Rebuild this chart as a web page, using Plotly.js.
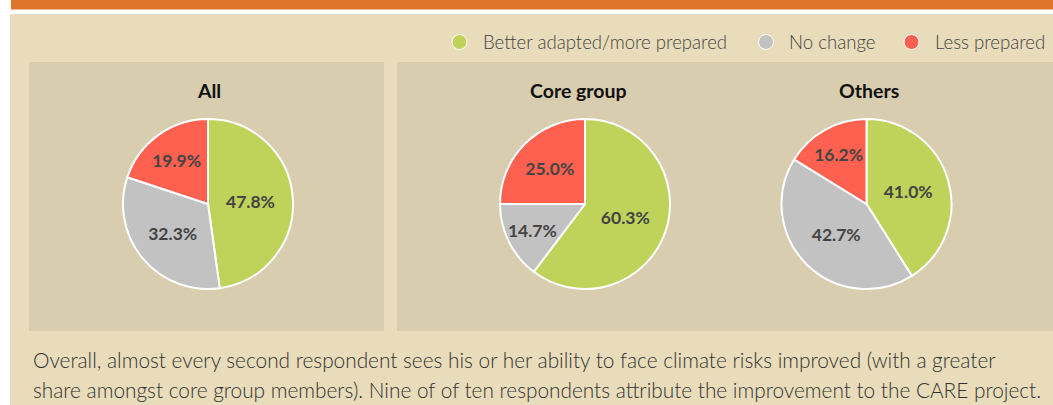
<!DOCTYPE html>
<html>
<head>
<meta charset="utf-8">
<script src="https://cdn.plot.ly/plotly-3.0.1.min.js"></script>
<style>
  html, body { margin: 0; padding: 0; background: #ffffff; }
  #chart { width: 1053px; height: 405px; }
</style>
</head>
<body>
<div id="chart"></div>
<script>
// ---- data ----
const categories = ["Better adapted/more prepared", "No change", "Less prepared"];
const groups = ["All", "Core group", "Others"];
const valuesAll = [47.8, 32.3, 19.9];
const valuesCore = [60.3, 14.7, 25.0];
const valuesOthers = [41.0, 42.7, 16.2];
const captionLines = [
  "Overall, almost every second respondent sees his or her ability to face climate risks improved (with a greater",
  "share amongst core group members). Nine of of ten respondents attribute the improvement to the CARE project."
];

// ---- styling ----
const W = 1053, H = 405;
const colors = ["#bfd35a", "#c2c2c2", "#fe6150"];
const px = x => x / W;
const py = y => 1 - y / H;

const pieCenters = [208, 585, 866.5];
const pieCY = 204, pieR = 85;
const seriesValues = [valuesAll, valuesCore, valuesOthers];

const traces = seriesValues.map((vals, i) => ({
  type: "pie",
  values: vals,
  labels: categories,
  sort: false,
  direction: "clockwise",
  rotation: 0,
  showlegend: false,
  marker: { colors: colors, line: { color: "#ffffff", width: 2 } },
  texttemplate: "%{value:.1f}%",
  textposition: "inside",
  insidetextorientation: "horizontal",
  textfont: { family: "Lato, sans-serif", size: 17.5, color: "#444444", weight: 700 },
  hoverinfo: "label+value",
  domain: {
    x: [px(pieCenters[i] - pieR), px(pieCenters[i] + pieR)],
    y: [py(pieCY + pieR), py(pieCY - pieR)]
  }
}));

const shapes = [
  // orange top bar
  { type: "rect", xref: "paper", yref: "paper", x0: px(11), x1: px(1053), y0: py(9.5), y1: py(0),
    fillcolor: "#df742b", line: { width: 0 }, layer: "below" },
  // beige background
  { type: "rect", xref: "paper", yref: "paper", x0: px(10), x1: px(1053), y0: py(405), y1: py(14),
    fillcolor: "#e8dcba", line: { width: 0 }, layer: "below" },
  // panels
  { type: "rect", xref: "paper", yref: "paper", x0: px(29), x1: px(384), y0: py(331), y1: py(62),
    fillcolor: "#d9cdaf", line: { width: 0 }, layer: "below" },
  { type: "rect", xref: "paper", yref: "paper", x0: px(397), x1: px(1053), y0: py(331), y1: py(62),
    fillcolor: "#d9cdaf", line: { width: 0 }, layer: "below" }
];

const legendX = [459.5, 766, 911.5];
const legendY = 42;
categories.forEach((c, i) => {
  shapes.push({
    type: "circle", xref: "paper", yref: "paper",
    xsizemode: "pixel", ysizemode: "pixel",
    xanchor: px(legendX[i]), yanchor: py(legendY),
    x0: -7.5, x1: 7.5, y0: -7.5, y1: 7.5,
    fillcolor: colors[i], line: { color: "#ffffff", width: 1 }
  });
});

const annotations = [];
categories.forEach((c, i) => {
  annotations.push({
    xref: "paper", yref: "paper", x: px(legendX[i] + 21), y: py(legendY),
    xanchor: "left", yanchor: "middle", showarrow: false, text: c,
    font: { family: "Lato, sans-serif", size: 18.6, color: "#444444", weight: 300 }
  });
});
const titleX = [209, 578, 869];
groups.forEach((g, i) => {
  annotations.push({
    xref: "paper", yref: "paper", x: px(titleX[i]), y: py(90),
    xanchor: "center", yanchor: "middle", showarrow: false, text: g,
    font: { family: "Lato, sans-serif", size: 19.5, color: "#111111", weight: 700 }
  });
});
const capY = [359, 389];
captionLines.forEach((t, i) => {
  annotations.push({
    xref: "paper", yref: "paper", x: px(31), y: py(capY[i]),
    xanchor: "left", yanchor: "middle", showarrow: false, text: t,
    font: { family: "Lato, sans-serif", size: 20.8, color: "#333333", weight: 300 }
  });
});

const layout = {
  width: W, height: H,
  margin: { l: 0, r: 0, t: 0, b: 0 },
  paper_bgcolor: "#ffffff",
  showlegend: false,
  uniformtext: { minsize: 17.5, mode: "show" },
  shapes: shapes,
  annotations: annotations
};

Plotly.newPlot("chart", traces, layout, { displayModeBar: false, staticPlot: true });
</script>
</body>
</html>
